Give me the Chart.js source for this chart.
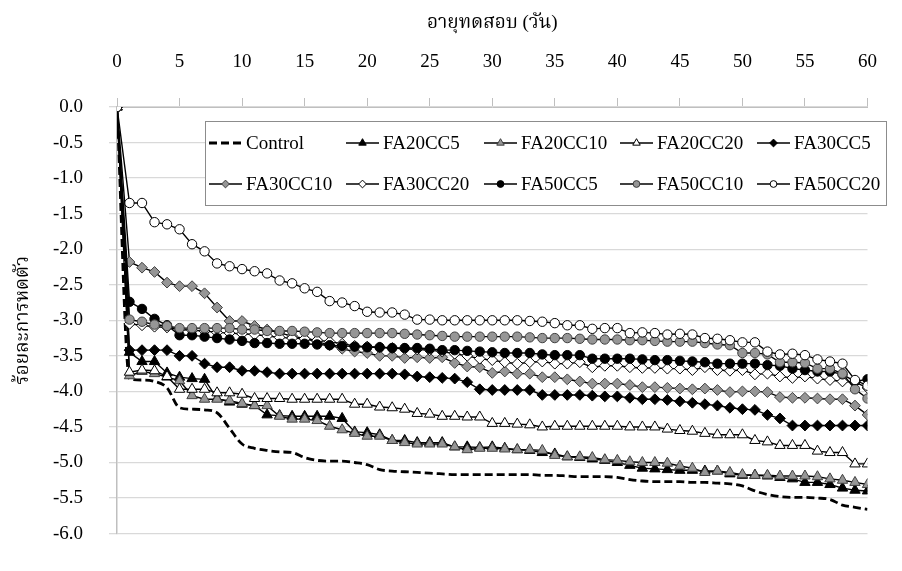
<!DOCTYPE html>
<html>
<head>
<meta charset="utf-8">
<script src="https://cdn.jsdelivr.net/npm/chart.js@4.4.1/dist/chart.umd.min.js"></script>
<style>
html,body{margin:0;padding:0;background:#fff;}
#wrap{width:902px;height:571px;}
</style>
</head>
<body>
<div id="wrap"><canvas id="c" width="902" height="571"></canvas></div>
<script>
const xTitle = 'อายุทดสอบ (วัน)';
const yTitle = 'ร้อยละการหดตัว';
const days = [0,1,2,3,4,5,6,7,8,9,10,11,12,13,14,15,16,17,18,19,20,21,22,23,24,25,26,27,28,29,30,31,32,33,34,35,36,37,38,39,40,41,42,43,44,45,46,47,48,49,50,51,52,53,54,55,56,57,58,59,60];

const control = [0,-3.82,-3.84,-3.86,-3.95,-4.23,-4.25,-4.26,-4.30,-4.52,-4.74,
  -4.80,-4.83,-4.85,-4.86,-4.93,-4.97,-4.98,-4.98,-5.00,
  -5.03,-5.10,-5.12,-5.13,-5.14,-5.15,-5.16,-5.17,-5.17,-5.17,
  -5.17,-5.17,-5.17,-5.17,-5.18,-5.18,-5.19,-5.20,-5.20,-5.20,
  -5.21,-5.24,-5.26,-5.27,-5.27,-5.27,-5.28,-5.28,-5.29,-5.30,
  -5.33,-5.40,-5.45,-5.48,-5.49,-5.49,-5.50,-5.52,-5.60,-5.63,-5.66];
const fa20cc5 = [0,-3.45,-3.58,-3.58,-3.74,-3.80,-3.82,-3.83,-4.10,-4.15,-4.18,
  -4.20,-4.33,-4.34,-4.35,-4.35,-4.35,-4.35,-4.38,-4.57,
  -4.58,-4.61,-4.69,-4.69,-4.72,-4.72,-4.72,-4.78,-4.78,-4.79,
  -4.78,-4.80,-4.82,-4.83,-4.86,-4.88,-4.92,-4.93,-4.95,-4.97,
  -5.00,-5.04,-5.08,-5.09,-5.10,-5.11,-5.11,-5.12,-5.12,-5.16,
  -5.18,-5.18,-5.19,-5.21,-5.23,-5.28,-5.28,-5.31,-5.36,-5.39,-5.40];
const fa20cc10 = [0,-3.78,-3.72,-3.75,-3.80,-3.85,-4.06,-4.11,-4.11,-4.13,-4.17,
  -4.20,-4.20,-4.35,-4.39,-4.39,-4.41,-4.49,-4.54,-4.59,
  -4.63,-4.63,-4.69,-4.72,-4.74,-4.74,-4.74,-4.78,-4.82,-4.80,
  -4.80,-4.81,-4.82,-4.82,-4.83,-4.90,-4.92,-4.92,-4.93,-4.96,
  -4.97,-4.99,-5.00,-5.00,-5.01,-5.05,-5.08,-5.14,-5.12,-5.14,
  -5.17,-5.18,-5.18,-5.19,-5.19,-5.19,-5.20,-5.23,-5.25,-5.28,-5.31];
const fa20cc20 = [0,-3.73,-3.70,-3.71,-3.79,-3.97,-3.97,-3.97,-4.02,-4.02,-4.04,
  -4.10,-4.10,-4.10,-4.11,-4.11,-4.11,-4.11,-4.11,-4.18,
  -4.18,-4.22,-4.23,-4.25,-4.31,-4.32,-4.35,-4.35,-4.36,-4.36,
  -4.45,-4.45,-4.46,-4.47,-4.50,-4.49,-4.49,-4.49,-4.49,-4.49,
  -4.49,-4.50,-4.50,-4.50,-4.53,-4.55,-4.56,-4.59,-4.61,-4.61,
  -4.61,-4.69,-4.71,-4.76,-4.76,-4.76,-4.84,-4.86,-4.86,-5.02,-5.02];
const fa30cc5 = [0,-3.42,-3.42,-3.42,-3.42,-3.50,-3.50,-3.61,-3.66,-3.66,-3.71,
  -3.71,-3.73,-3.75,-3.75,-3.75,-3.75,-3.75,-3.75,-3.75,
  -3.75,-3.75,-3.75,-3.76,-3.79,-3.80,-3.81,-3.82,-3.87,-3.97,
  -3.98,-3.98,-3.98,-3.98,-4.05,-4.05,-4.05,-4.05,-4.06,-4.07,
  -4.07,-4.09,-4.11,-4.11,-4.12,-4.14,-4.16,-4.18,-4.20,-4.23,
  -4.25,-4.26,-4.33,-4.38,-4.48,-4.48,-4.48,-4.48,-4.48,-4.48,-4.48];
const fa30cc10 = [0,-2.18,-2.26,-2.32,-2.47,-2.52,-2.52,-2.62,-2.82,-3.01,-3.01,
  -3.08,-3.13,-3.18,-3.22,-3.26,-3.30,-3.35,-3.40,-3.44,
  -3.46,-3.50,-3.50,-3.53,-3.52,-3.53,-3.52,-3.60,-3.65,-3.66,
  -3.74,-3.72,-3.75,-3.75,-3.80,-3.80,-3.83,-3.86,-3.89,-3.89,
  -3.89,-3.91,-3.94,-3.94,-3.95,-3.96,-3.97,-3.96,-3.98,-4.01,
  -4.00,-4.00,-4.01,-4.08,-4.09,-4.09,-4.10,-4.11,-4.11,-4.20,-4.33];
const fa30cc20 = [0,-3.05,-3.07,-3.09,-3.10,-3.13,-3.14,-3.15,-3.17,-3.18,-3.19,
  -3.20,-3.22,-3.24,-3.25,-3.26,-3.28,-3.30,-3.33,-3.36,
  -3.37,-3.38,-3.39,-3.40,-3.41,-3.42,-3.44,-3.47,-3.50,-3.54,
  -3.56,-3.59,-3.61,-3.59,-3.58,-3.61,-3.61,-3.59,-3.66,-3.64,
  -3.64,-3.66,-3.67,-3.67,-3.68,-3.68,-3.70,-3.66,-3.70,-3.71,
  -3.70,-3.76,-3.75,-3.79,-3.81,-3.79,-3.82,-3.84,-3.86,-3.87,-3.95];
const fa50cc5 = [0,-2.74,-2.84,-2.98,-3.07,-3.21,-3.21,-3.23,-3.25,-3.27,-3.29,
  -3.32,-3.32,-3.33,-3.33,-3.33,-3.34,-3.35,-3.36,-3.37,
  -3.38,-3.38,-3.39,-3.39,-3.39,-3.40,-3.42,-3.42,-3.43,-3.44,
  -3.45,-3.46,-3.46,-3.46,-3.48,-3.49,-3.49,-3.49,-3.54,-3.54,
  -3.54,-3.54,-3.55,-3.56,-3.56,-3.57,-3.58,-3.59,-3.61,-3.61,
  -3.61,-3.61,-3.63,-3.64,-3.68,-3.70,-3.72,-3.72,-3.76,-3.86,-3.83];
const fa50cc10 = [0,-2.99,-3.02,-3.06,-3.08,-3.11,-3.11,-3.11,-3.11,-3.11,-3.13,
  -3.13,-3.15,-3.15,-3.15,-3.16,-3.17,-3.18,-3.18,-3.18,
  -3.18,-3.18,-3.18,-3.19,-3.20,-3.21,-3.22,-3.23,-3.23,-3.23,
  -3.23,-3.23,-3.23,-3.24,-3.25,-3.25,-3.25,-3.26,-3.27,-3.27,
  -3.27,-3.28,-3.28,-3.29,-3.30,-3.30,-3.30,-3.32,-3.34,-3.35,
  -3.46,-3.46,-3.48,-3.59,-3.59,-3.60,-3.68,-3.68,-3.75,-3.97,-4.10];
const fa50cc20 = [0,-1.35,-1.35,-1.62,-1.65,-1.72,-1.93,-2.03,-2.20,-2.24,-2.28,
  -2.31,-2.34,-2.44,-2.48,-2.55,-2.60,-2.73,-2.75,-2.80,
  -2.88,-2.89,-2.89,-2.92,-2.99,-2.99,-3.00,-3.00,-3.00,-3.00,
  -3.00,-3.00,-3.00,-3.01,-3.02,-3.04,-3.07,-3.07,-3.12,-3.11,
  -3.11,-3.18,-3.17,-3.18,-3.20,-3.19,-3.20,-3.25,-3.26,-3.28,
  -3.31,-3.31,-3.44,-3.48,-3.47,-3.49,-3.55,-3.58,-3.61,-3.84,-3.92];

const seriesNames = ['Control','FA20CC5','FA20CC10','FA20CC20','FA30CC5','FA30CC10','FA30CC20','FA50CC5','FA50CC10','FA50CC20'];
const seriesValues = [control,fa20cc5,fa20cc10,fa20cc20,fa30cc5,fa30cc10,fa30cc20,fa50cc5,fa50cc10,fa50cc20];
const xTicks = [0,5,10,15,20,25,30,35,40,45,50,55,60];
const yTicks = [0,-0.5,-1,-1.5,-2,-2.5,-3,-3.5,-4,-4.5,-5,-5.5,-6];

const FONT = "'Liberation Serif','Times New Roman','Noto Serif Thai','Noto Sans Thai',serif";
const GREY = '#969696';
const styles = [
  {shape:false, fill:'#000', dash:[8,4], width:2.8},
  {shape:'triangle', fill:'#000', r:6},
  {shape:'triangle', fill:GREY, r:6},
  {shape:'triangle', fill:'#fff', r:6},
  {shape:'rectRot', fill:'#000', r:5.4},
  {shape:'rectRot', fill:GREY, r:5.4},
  {shape:'rectRot', fill:'#fff', r:5.4},
  {shape:'circle', fill:'#000', r:4.7},
  {shape:'circle', fill:GREY, r:4.7},
  {shape:'circle', fill:'#fff', r:4.7}
];

const datasets = seriesNames.map((name,i)=>{
  const s = styles[i];
  return {
    label: name,
    data: days.map((d,k)=>({x:d, y:seriesValues[i][k]})),
    borderColor: '#000',
    borderWidth: s.width || 1.4,
    borderDash: s.dash || [],
    pointStyle: s.shape || 'circle',
    pointRadius: s.shape ? s.r : 0,
    pointBackgroundColor: s.fill,
    pointBorderColor: s.fill === GREY ? '#404040' : '#000',
    pointBorderWidth: 1,
    tension: s.shape ? 0 : 0.3,
    cubicInterpolationMode: s.shape ? 'default' : 'monotone',
    order: 20 - i,
    fill: false
  };
});

const legendCols = [209,346,484,620,757];
const legendRows = [143,184];
const legendBox = {x:205, y:121, w:681, h:84};

const legendPlugin = {
  id:'gridLegend',
  afterDraw(chart){
    const ctx = chart.ctx;
    ctx.save();
    ctx.fillStyle='#fff';
    ctx.fillRect(legendBox.x, legendBox.y, legendBox.w, legendBox.h);
    ctx.strokeStyle='#8c8c8c'; ctx.lineWidth=1;
    ctx.strokeRect(legendBox.x+0.5, legendBox.y+0.5, legendBox.w, legendBox.h);
    chart.data.datasets.forEach((ds,i)=>{
      const x0 = legendCols[i%5], y = legendRows[Math.floor(i/5)];
      ctx.strokeStyle = ds.borderColor;
      ctx.lineWidth = ds.borderWidth;
      ctx.setLineDash(ds.borderDash);
      ctx.beginPath(); ctx.moveTo(x0,y); ctx.lineTo(x0+33,y); ctx.stroke();
      ctx.setLineDash([]);
      if (ds.pointRadius > 0) {
        ctx.fillStyle = ds.pointBackgroundColor;
        ctx.strokeStyle = ds.pointBorderColor;
        ctx.lineWidth = 1;
        Chart.helpers.drawPoint(ctx, {pointStyle: ds.pointStyle, radius: ds.pointRadius*0.72, rotation:0, borderWidth:1}, x0+16.5, y);
      }
      ctx.fillStyle = '#000';
      ctx.font = '19px ' + FONT;
      ctx.textBaseline = 'middle';
      ctx.textAlign = 'left';
      ctx.fillText(ds.label, x0+37, y+1);
    });
    ctx.restore();
  }
};

Chart.defaults.font.family = FONT;
Chart.defaults.font.size = 19;
Chart.defaults.color = '#000';

new Chart(document.getElementById('c'), {
  type: 'line',
  data: { datasets },
  plugins: [legendPlugin],
  options: {
    responsive: false,
    animation: false,
    devicePixelRatio: 1,
    layout: { padding: {top:0, left:0, right:14, bottom:9} },
    plugins: { legend:{display:false}, tooltip:{enabled:false} },
    scales: {
      x: {
        type: 'linear',
        position: 'top',
        min: 0, max: 60,
        afterBuildTicks(scale){ scale.ticks = xTicks.map(v=>({value:v})); },
        afterFit(scale){ scale.height = 107; },
        ticks: { padding: 25, maxRotation:0, font:{size:19} },
        grid: { drawOnChartArea:false, drawTicks:true, tickLength:9, color:'#bfbfbf', lineWidth:1 },
        border: { display:true, color:'#bfbfbf', width:1 },
        title: { display:true, text:xTitle, font:{size:19}, padding:{top:12, bottom:0} }
      },
      y: {
        type: 'linear',
        min: -6, max: 0,
        afterBuildTicks(scale){ scale.ticks = yTicks.map(v=>({value:v})); },
        afterFit(scale){ scale.width = 117; },
        ticks: { padding: 26, callback:(v)=>Number(v).toFixed(1), font:{size:19} },
        grid: { color:'#d9d9d9', lineWidth:1.3, tickLength:8, drawTicks:true },
        border: { display:true, color:'#bfbfbf', width:1.5 },
        title: { display:true, text:yTitle, font:{size:19}, padding:{top:12, bottom:0} }
      }
    }
  }
});
</script>
</body>
</html>
